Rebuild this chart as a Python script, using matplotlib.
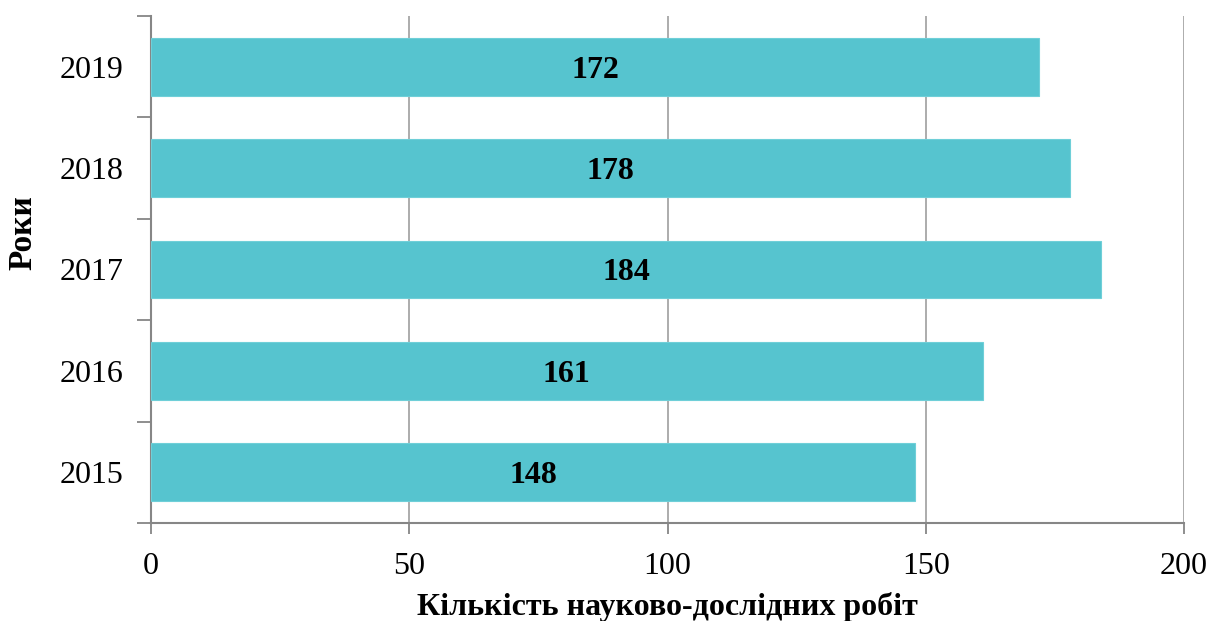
import matplotlib
matplotlib.use("Agg")
import matplotlib.pyplot as plt

years = ["2015", "2016", "2017", "2018", "2019"]
counts = [148, 161, 184, 178, 172]
xticks = [0, 50, 100, 150, 200]

plt.rcParams['font.family'] = ['Liberation Serif', 'DejaVu Serif']

fig = plt.figure(figsize=(12.10, 6.21), dpi=100)
ax = fig.add_axes([151/1210, 98/621, (1184-151)/1210, (523-16)/621])

bar_color = "#56C4CF"
bars = ax.barh(range(len(years)), counts, height=0.57, color=bar_color,
               edgecolor="#6FCFD8", linewidth=0.8, zorder=3)
for i, v in enumerate(counts):
    ax.text(v / 2, i, str(v), ha="center", va="center_baseline", fontsize=23,
            fontweight="bold", color="black", zorder=4)

ax.set_xlim(0, 200)
ax.set_ylim(-0.5, len(years) - 0.5)
ax.set_xticks(xticks)
ax.set_xticklabels([str(t) for t in xticks])
ax.set_yticks(range(len(years)))
ax.set_yticklabels(years)
ax.set_yticks([i - 0.5 for i in range(len(years) + 1)], minor=True)

ax.grid(axis="x", color="#A6A6A6", linewidth=1.3, zorder=0)
ax.tick_params(axis="y", which="major", length=0, labelsize=23, pad=20)
ax.tick_params(axis="y", which="minor", length=10, width=1.3, color="#868686")
ax.tick_params(axis="x", which="major", length=8, width=1.3, color="#868686",
               labelsize=23, pad=13)

for s in ["top", "right"]:
    ax.spines[s].set_visible(False)
for s in ["left", "bottom"]:
    ax.spines[s].set_color("#868686")
    ax.spines[s].set_linewidth(1.5)

ax.set_xlabel("Кількість науково-дослідних робіт", fontsize=23, fontweight="bold", labelpad=8)
ax.set_ylabel("Роки", fontsize=24, fontweight="bold")
ax.yaxis.set_label_coords(-(151 - 38) / 1033, (523 - 233) / 507)

fig.savefig("out.png", dpi=100)
